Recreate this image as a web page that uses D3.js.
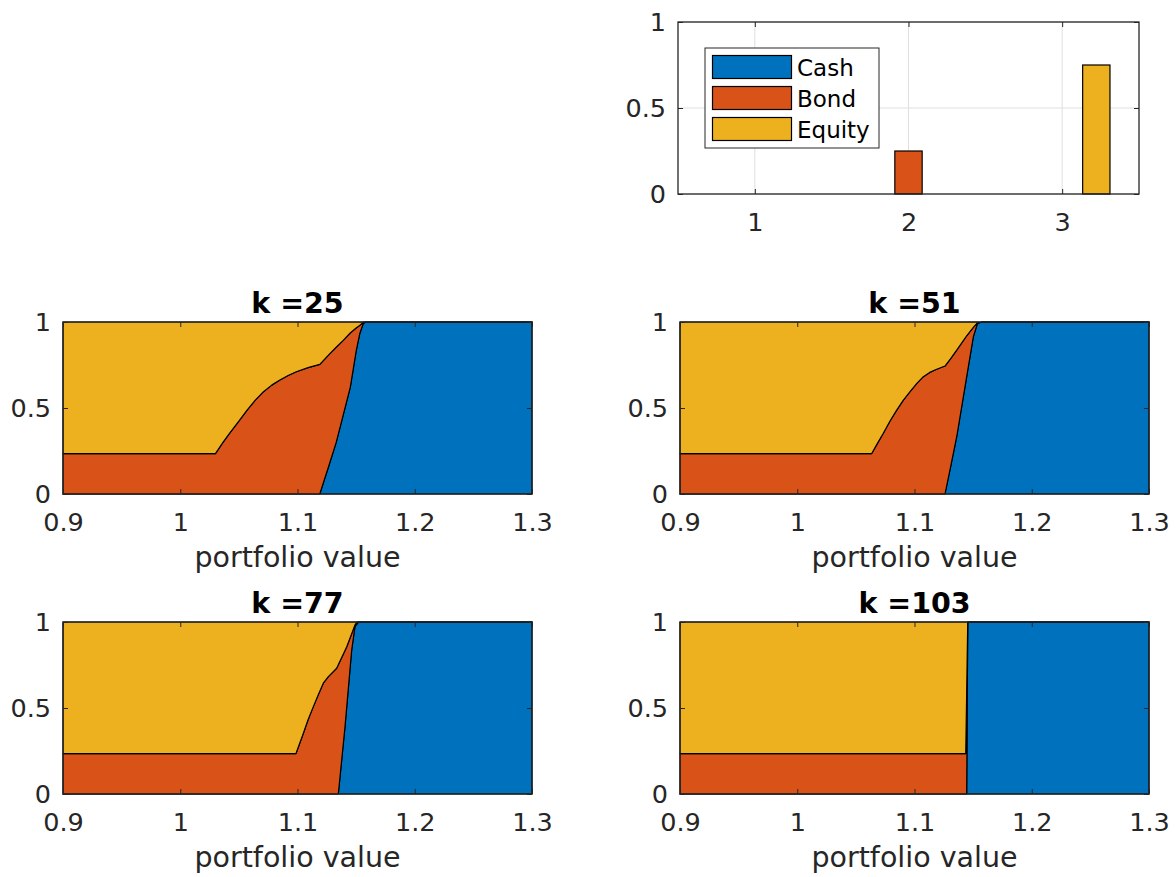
<!DOCTYPE html>
<html>
<head>
<meta charset="utf-8">
<script src="https://cdn.jsdelivr.net/npm/d3@7"></script>
<style>
  body { margin: 0; background: #fff; }
  svg { font-family: "DejaVu Sans", sans-serif; }
  .tick text { fill: #262626; }
</style>
</head>
<body>
<svg id="chart" width="1176" height="877"></svg>
<script>
'use strict';

// bar chart (current allocation)
var barGroups = [1, 2, 3];
var barSeries = ['Cash', 'Bond', 'Equity'];
var barCash = [0, 0, 0];
var barBond = [0, 0.25, 0];
var barEquity = [0, 0, 0.75];

var seriesColors = ['#0072BD', '#D95319', '#EDB120'];

// allocation vs portfolio value, one set per time step k
var titles = ['k =25', 'k =51', 'k =77', 'k =103'];

var value25  = [0.9, 1.03, 1.036, 1.042, 1.05, 1.057, 1.064, 1.071, 1.078, 1.085, 1.092, 1.099, 1.109, 1.119, 1.127, 1.133, 1.139, 1.145, 1.15, 1.153, 1.156, 1.158, 1.3];
var cash25   = [0, 0, 0, 0, 0, 0, 0, 0, 0, 0, 0, 0, 0, 0, 0.17, 0.30, 0.46, 0.62, 0.83, 0.93, 0.99, 1, 1];
var bond25   = [0.235, 0.235, 0.296, 0.353, 0.424, 0.488, 0.546, 0.595, 0.633, 0.663, 0.689, 0.711, 0.735, 0.754, 0.642, 0.553, 0.433, 0.316, 0.135, 0.05, 0.008, 0, 0];
var equity25 = [0.765, 0.765, 0.704, 0.647, 0.576, 0.512, 0.454, 0.405, 0.367, 0.337, 0.311, 0.289, 0.265, 0.246, 0.188, 0.147, 0.107, 0.064, 0.035, 0.02, 0.002, 0, 0];

var value51  = [0.9, 1.0635, 1.0685, 1.0734, 1.079, 1.0848, 1.0905, 1.0962, 1.102, 1.1075, 1.113, 1.1189, 1.126, 1.131, 1.136, 1.1445, 1.1502, 1.1536, 1.1573, 1.3];
var cash51   = [0, 0, 0, 0, 0, 0, 0, 0, 0, 0, 0, 0, 0, 0.165, 0.333, 0.682, 0.915, 0.99, 1, 1];
var bond51   = [0.235, 0.235, 0.296, 0.353, 0.423, 0.488, 0.546, 0.595, 0.643, 0.682, 0.707, 0.725, 0.744, 0.624, 0.504, 0.238, 0.054, 0.005, 0, 0];
var equity51 = [0.765, 0.765, 0.704, 0.647, 0.577, 0.512, 0.454, 0.405, 0.357, 0.318, 0.293, 0.275, 0.256, 0.211, 0.163, 0.080, 0.031, 0.005, 0, 0];

var value77  = [0.9, 1.0987, 1.105, 1.109, 1.1135, 1.118, 1.122, 1.1263, 1.1334, 1.1348, 1.1405, 1.142, 1.1462, 1.149, 1.151, 1.152, 1.3];
var cash77   = [0, 0, 0, 0, 0, 0, 0, 0, 0, 0, 0.391, 0.508, 0.837, 0.973, 0.99, 1, 1];
var bond77   = [0.235, 0.235, 0.353, 0.432, 0.508, 0.582, 0.644, 0.682, 0.731, 0.751, 0.443, 0.348, 0.095, 0.010, 0.010, 0, 0];
var equity77 = [0.765, 0.765, 0.647, 0.568, 0.492, 0.418, 0.356, 0.318, 0.269, 0.249, 0.166, 0.144, 0.068, 0.017, 0, 0, 0];

var value103  = [0.9, 1.1437, 1.1445, 1.1454, 1.3];
var cash103   = [0, 0, 0, 1, 1];
var bond103   = [0.235, 0.235, 0.595, 0, 0];
var equity103 = [0.765, 0.765, 0.405, 0, 0];

var xTicks = [0.9, 1, 1.1, 1.2, 1.3];
var yTicks = [0, 0.5, 1];

var svg = d3.select('#chart');
var axisColor = '#262626';
var tickFont = 25.5;

function frame(g, x, y, xt, yt, grid) {
    var x0 = x.range()[0], x1 = x.range()[1];
    var y0 = y.range()[0], y1 = y.range()[1];
    var fmt = function(d) { return String(d); };

    if (grid) {
        g.append('g').selectAll('line').data(xt).enter().append('line')
            .attr('x1', x).attr('x2', x).attr('y1', y0).attr('y2', y1)
            .attr('stroke', '#dfdfdf');
        g.append('g').selectAll('line').data(yt).enter().append('line')
            .attr('x1', x0).attr('x2', x1).attr('y1', y).attr('y2', y)
            .attr('stroke', '#dfdfdf');
    }

    var bottom = g.append('g').attr('transform', 'translate(0,' + y0 + ')')
        .call(d3.axisBottom(x).tickValues(xt).tickFormat(fmt).tickSize(-5).tickSizeOuter(0).tickPadding(19));
    var top = g.append('g').attr('transform', 'translate(0,' + y1 + ')')
        .call(d3.axisTop(x).tickValues(xt).tickSize(-5).tickSizeOuter(0).tickFormat(''));
    var left = g.append('g').attr('transform', 'translate(' + x0 + ',0)')
        .call(d3.axisLeft(y).tickValues(yt).tickFormat(fmt).tickSize(-5).tickSizeOuter(0).tickPadding(12));
    var right = g.append('g').attr('transform', 'translate(' + x1 + ',0)')
        .call(d3.axisRight(y).tickValues(yt).tickSize(-5).tickSizeOuter(0).tickFormat(''));

    [bottom, top, left, right].forEach(function(a) {
        a.select('.domain').remove();
        a.selectAll('line').attr('stroke', axisColor);
        a.selectAll('text').style('font-size', tickFont + 'px')
            .attr('font-family', '"DejaVu Sans", sans-serif');
    });
}

function box(g, x, y) {
    var x0 = x.range()[0], x1 = x.range()[1];
    var y0 = y.range()[0], y1 = y.range()[1];
    g.append('rect')
        .attr('x', x0).attr('y', y1)
        .attr('width', x1 - x0).attr('height', y0 - y1)
        .attr('fill', 'none').attr('stroke', axisColor).attr('stroke-width', 1.3);
}

// ---- top bar chart ----
(function() {
    var g = svg.append('g');
    var x = d3.scaleLinear().domain([0.5, 3.5]).range([678, 1139]);
    var y = d3.scaleLinear().domain([0, 1]).range([194, 22]);
    var offset = d3.scaleBand().domain(barSeries).range([-1 / 3, 1 / 3]);
    var barW = offset.bandwidth() * 0.8;
    var values = [barCash, barBond, barEquity];

    frame(g, x, y, barGroups, yTicks, true);

    barSeries.forEach(function(s, si) {
        g.append('g').selectAll('rect').data(barGroups).enter().append('rect')
            .filter(function(d, i) { return values[si][i] > 0; })
            .attr('x', function(d) {
                return x(d + offset(s) + offset.bandwidth() / 2 - barW / 2);
            })
            .attr('width', function(d) { return x(d + barW) - x(d); })
            .attr('y', function(d) { return y(values[si][barGroups.indexOf(d)]); })
            .attr('height', function(d) { return y(0) - y(values[si][barGroups.indexOf(d)]); })
            .attr('fill', seriesColors[si])
            .attr('stroke', '#000').attr('stroke-width', 1.2);
    });

    box(g, x, y);

    // legend
    var lg = g.append('g').attr('transform', 'translate(705,48)');
    lg.append('rect').attr('width', 174).attr('height', 100)
        .attr('fill', '#fff').attr('stroke', axisColor).attr('stroke-width', 1);
    barSeries.forEach(function(s, i) {
        lg.append('rect')
            .attr('x', 7.5).attr('y', 7.5 + i * 31)
            .attr('width', 79).attr('height', 23)
            .attr('fill', seriesColors[i]).attr('stroke', '#000').attr('stroke-width', 1.2);
        lg.append('text')
            .attr('x', 92).attr('y', 27.5 + i * 31)
            .attr('font-size', '23px').attr('fill', '#000')
            .text(s);
    });
})();

// ---- area panels ----
var panelData = [
    [value25, cash25, bond25, equity25],
    [value51, cash51, bond51, equity51],
    [value77, cash77, bond77, equity77],
    [value103, cash103, bond103, equity103]
];
var cols = [[63, 532], [680, 1149]];
var rows = [[494, 322], [794, 622]];

panelData.forEach(function(p, i) {
    var g = svg.append('g');
    var x = d3.scaleLinear().domain([0.9, 1.3]).range(cols[i % 2]);
    var y = d3.scaleLinear().domain([0, 1]).range(rows[Math.floor(i / 2)]);

    var rowsData = p[0].map(function(v, j) {
        return {value: v, cash: p[1][j], bond: p[2][j], equity: p[3][j]};
    });
    var stacked = d3.stack().keys(['cash', 'bond', 'equity'])(rowsData);

    var area = d3.area()
        .x(function(d) { return x(d.data.value); })
        .y0(function(d) { return y(d[0]); })
        .y1(function(d) { return y(d[1]); });

    g.selectAll('path.layer').data(stacked).enter().append('path')
        .attr('class', 'layer')
        .attr('d', area)
        .attr('fill', function(d, k) { return seriesColors[k]; })
        .attr('stroke', '#000').attr('stroke-width', 1.2)
        .attr('stroke-linejoin', 'round');

    frame(g, x, y, xTicks, yTicks, false);
    box(g, x, y);

    var xr = x.range();
    g.append('text')
        .attr('x', (xr[0] + xr[1]) / 2).attr('y', y.range()[1] - 9)
        .attr('text-anchor', 'middle')
        .attr('font-size', '28.5px').attr('font-weight', 'bold').attr('fill', '#000')
        .text(titles[i]);

    g.append('text')
        .attr('x', (xr[0] + xr[1]) / 2).attr('y', y.range()[0] + 73)
        .attr('text-anchor', 'middle')
        .attr('font-size', '28.5px').attr('fill', axisColor)
        .text('portfolio value');
});
</script>
</body>
</html>
